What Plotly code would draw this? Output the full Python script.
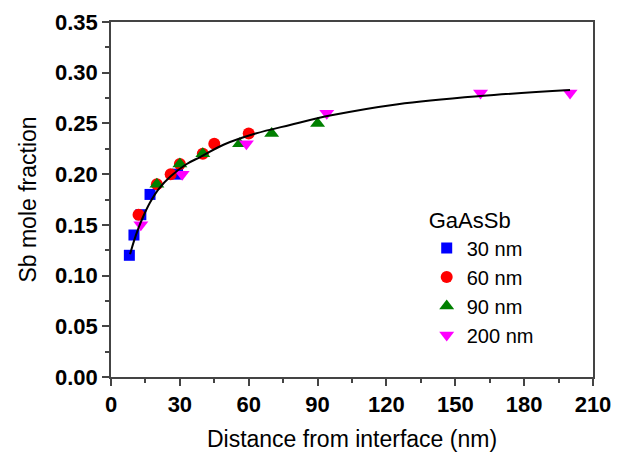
import plotly.graph_objects as go

# Data
x_30 = [8, 10, 13, 17, 29]
y_30 = [0.12, 0.14, 0.16, 0.18, 0.20]

x_60 = [12, 20, 26, 30, 40, 45, 60]
y_60 = [0.16, 0.19, 0.20, 0.21, 0.22, 0.23, 0.24]

x_90 = [20, 30, 40, 56, 70, 90]
y_90 = [0.19, 0.21, 0.22, 0.23, 0.24, 0.25]

x_200 = [13, 31, 59, 94, 161, 200]
y_200 = [0.15, 0.20, 0.23, 0.26, 0.28, 0.28]

# Fit curve, points
x_fit = [8.3, 10, 12, 14, 17, 21, 26, 33, 39, 49, 63, 78, 96, 125, 161, 200]
y_fit = [0.121, 0.134, 0.147, 0.158, 0.172, 0.186, 0.198, 0.210, 0.217, 0.229,
         0.240, 0.2485, 0.258, 0.269, 0.277, 0.283]

x_ticks = [0, 30, 60, 90, 120, 150, 180, 210]
y_ticks = [0.00, 0.05, 0.10, 0.15, 0.20, 0.25, 0.30, 0.35]

FONT = "Liberation Sans, Arial, sans-serif"

fig = go.Figure()
fig.add_trace(go.Scatter(x=x_30, y=y_30, mode="markers", name="30 nm",
                         marker=dict(symbol="square", size=11, color="#0000FF")))
fig.add_trace(go.Scatter(x=x_60, y=y_60, mode="markers", name="60 nm",
                         marker=dict(symbol="circle", size=12, color="#FF0000")))
fig.add_trace(go.Scatter(x=x_90, y=y_90, mode="markers", name="90 nm",
                         marker=dict(symbol="triangle-up", size=13, color="#008000")))
fig.add_trace(go.Scatter(x=x_200, y=y_200, mode="markers", name="200 nm",
                         marker=dict(symbol="triangle-down", size=13, color="#FF00FF")))
fig.add_trace(go.Scatter(x=x_fit, y=y_fit, mode="lines", showlegend=False,
                         line=dict(color="black", width=2, shape="spline")))

axis_common = dict(
    showgrid=False, zeroline=False, showline=True, mirror=True,
    linecolor="#444444", linewidth=1.5,
    ticks="outside", ticklen=7, tickwidth=1.5, tickcolor="#444444",
    tickfont=dict(family=FONT, size=22, color="black", weight="bold"),
    automargin=False,
)

# page body has an 8px default margin, so the figure is sized to fit the window
fig.update_layout(
    width=617, height=444,
    margin=dict(l=103, r=32, t=14, b=75),
    paper_bgcolor="white", plot_bgcolor="white",
    font=dict(family=FONT, color="black"),
    xaxis=dict(range=[0, 210], tickvals=x_ticks, ticktext=[str(v) for v in x_ticks],
               minor=dict(dtick=15, ticks="outside", ticklen=4, tickwidth=1.5, tickcolor="#444444"),
               title=dict(text="Distance from interface (nm)", font=dict(family=FONT, size=23), standoff=19),
               **axis_common),
    yaxis=dict(range=[0, 0.35], tickvals=y_ticks, ticktext=[f"{v:.2f}" for v in y_ticks],
               minor=dict(dtick=0.025, ticks="outside", ticklen=4, tickwidth=1.5, tickcolor="#444444"),
               title=dict(text="Sb mole fraction", font=dict(family=FONT, size=23), standoff=12),
               **axis_common),
    legend=dict(x=0.655, y=0.499, xanchor="left", yanchor="top",
                bgcolor="rgba(0,0,0,0)", font=dict(family=FONT, size=20),
                title=dict(text="GaAsSb", font=dict(family=FONT, size=22)),
                tracegroupgap=0, itemwidth=30),
)

fig.write_html("out.html")
